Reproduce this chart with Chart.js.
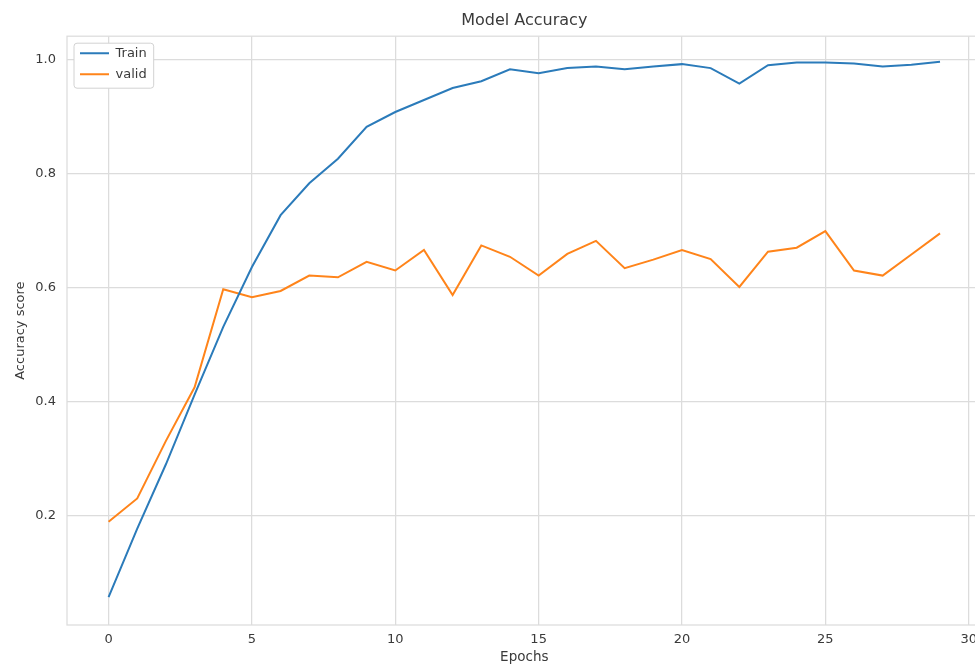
<!DOCTYPE html>
<html>
<head>
<meta charset="utf-8">
<script src="https://cdn.jsdelivr.net/npm/chart.js@4.4.0/dist/chart.umd.min.js"></script>
<style>
html,body{margin:0;padding:0;overflow:hidden;background:#ffffff;}
#wrap{width:984px;height:666px;}
</style>
</head>
<body>
<div id="wrap"><canvas id="c" width="984" height="666"></canvas></div>
<script>
const epochs = [0,1,2,3,4,5,6,7,8,9,10,11,12,13,14,15,16,17,18,19,20,21,22,23,24,25,26,27,28,29];
const trainAcc = [0.057,0.177,0.290,0.412,0.531,0.636,0.727,0.783,0.826,0.882,0.908,0.929,0.950,0.962,0.983,0.976,0.985,0.988,0.983,0.988,0.992,0.985,0.958,0.990,0.995,0.995,0.993,0.988,0.991,0.996];
const validAcc = [0.189,0.230,0.331,0.425,0.597,0.583,0.594,0.621,0.618,0.645,0.630,0.666,0.587,0.674,0.654,0.621,0.659,0.682,0.634,0.649,0.666,0.650,0.601,0.663,0.670,0.699,0.630,0.621,0.658,0.695];
const seriesNames = ['Train', 'valid'];
const xTicks = [0,5,10,15,20,25,30];
const yTicks = [0.2,0.4,0.6,0.8,1.0];

const GRID = '#dcdcdc';
const TEXT = '#3a3a3a';
const FONT = "'DejaVu Sans', sans-serif";
const BLUE = '#2b7bba';
const ORANGE = '#ff841a';

Chart.defaults.font.family = FONT;

function drawFrames(chart) {
  const ctx = chart.ctx, a = chart.chartArea;
  ctx.save();
  ctx.strokeStyle = GRID;
  ctx.lineWidth = 1.25;
  ctx.strokeRect(a.left, a.top, a.right - a.left, a.bottom - a.top);
  const lg = chart.legend;
  if (lg && lg.legendItems && lg.legendItems.length) {
    const pad = lg.options.labels.padding;
    ctx.font = '13px ' + FONT;
    const tw = Math.max(...lg.legendItems.map(it => ctx.measureText(it.text).width));
    const x0 = lg.left + pad - 6;
    const y0 = lg.top + pad - 3.5;
    const w = 6 + 29 + 6.5 + tw + 7;
    const h = 45;
    const r = 3;
    ctx.beginPath();
    ctx.moveTo(x0 + r, y0);
    ctx.lineTo(x0 + w - r, y0);
    ctx.quadraticCurveTo(x0 + w, y0, x0 + w, y0 + r);
    ctx.lineTo(x0 + w, y0 + h - r);
    ctx.quadraticCurveTo(x0 + w, y0 + h, x0 + w - r, y0 + h);
    ctx.lineTo(x0 + r, y0 + h);
    ctx.quadraticCurveTo(x0, y0 + h, x0, y0 + h - r);
    ctx.lineTo(x0, y0 + r);
    ctx.quadraticCurveTo(x0, y0, x0 + r, y0);
    ctx.closePath();
    ctx.fillStyle = '#ffffff';
    ctx.fill();
    ctx.strokeStyle = '#d2d2d2';
    ctx.lineWidth = 1;
    ctx.stroke();
  }
  ctx.restore();
}

const framePlugin = {
  id: 'frameBox',
  beforeInit(chart) {
    const box = {
      position: 'chartArea', weight: 0, fullSize: false, options: {},
      isHorizontal() { return false; },
      update() {},
      draw() {},
      _layers() { return [{ z: -1, draw: () => drawFrames(chart) }]; }
    };
    Chart.layouts.addBox(chart, box);
  },
  afterLayout(chart) {
    const lg = chart.legend;
    if (!lg) return;
    const a = chart.chartArea;
    lg.left = a.left + 5;
    lg.right = lg.left + 200;
    lg.top = a.top + 2.5;
    lg.bottom = lg.top + 200;
  }
};

new Chart(document.getElementById('c'), {
  type: 'line',
  data: {
    datasets: [
      {
        label: seriesNames[0],
        data: epochs.map((e, i) => ({x: e, y: trainAcc[i]})),
        borderColor: BLUE, backgroundColor: BLUE,
        borderWidth: 2, pointRadius: 0, tension: 0, fill: false
      },
      {
        label: seriesNames[1],
        data: epochs.map((e, i) => ({x: e, y: validAcc[i]})),
        borderColor: ORANGE, backgroundColor: ORANGE,
        borderWidth: 2, pointRadius: 0, tension: 0, fill: false
      }
    ]
  },
  options: {
    responsive: false,
    devicePixelRatio: 1,
    animation: false,
    layout: { padding: 0 },
    plugins: {
      title: {
        display: true, text: 'Model Accuracy', color: TEXT, fullSize: false,
        font: { size: 16, weight: 'normal', family: FONT },
        padding: { top: 11, bottom: 6 }
      },
      legend: {
        display: true, position: 'chartArea', align: 'start',
        labels: {
          usePointStyle: true, pointStyle: 'line', pointStyleWidth: 29,
          color: TEXT, padding: 8, font: { size: 13, family: FONT }
        }
      },
      tooltip: { enabled: false }
    },
    scales: {
      x: {
        type: 'linear', min: -1.45, max: 30.45,
        afterBuildTicks: s => { s.ticks = xTicks.map(v => ({value: v})); },
        afterFit: s => { s.height = 41; },
        ticks: { color: TEXT, font: { size: 13 }, padding: 7, maxRotation: 0, autoSkip: false,
                 callback: v => String(v) },
        grid: { color: GRID, lineWidth: 1.25, drawTicks: false, z: -2 },
        border: { display: false },
        title: { display: true, text: 'Epochs', color: TEXT, font: { size: 13.5 }, padding: { top: 0, bottom: 0 } }
      },
      y: {
        type: 'linear', min: 0.008, max: 1.041,
        afterBuildTicks: s => { s.ticks = yTicks.map(v => ({value: v})); },
        afterFit: s => { s.width = 67; },
        ticks: { color: TEXT, font: { size: 13 }, padding: 11, autoSkip: false,
                 callback: v => Number(v).toFixed(1) },
        grid: { color: GRID, lineWidth: 1.25, drawTicks: false, z: -2 },
        border: { display: false },
        title: { display: true, text: 'Accuracy score', color: TEXT, font: { size: 13 }, padding: { top: 13, bottom: 0 } }
      }
    }
  },
  plugins: [framePlugin]
});
</script>
</body>
</html>
